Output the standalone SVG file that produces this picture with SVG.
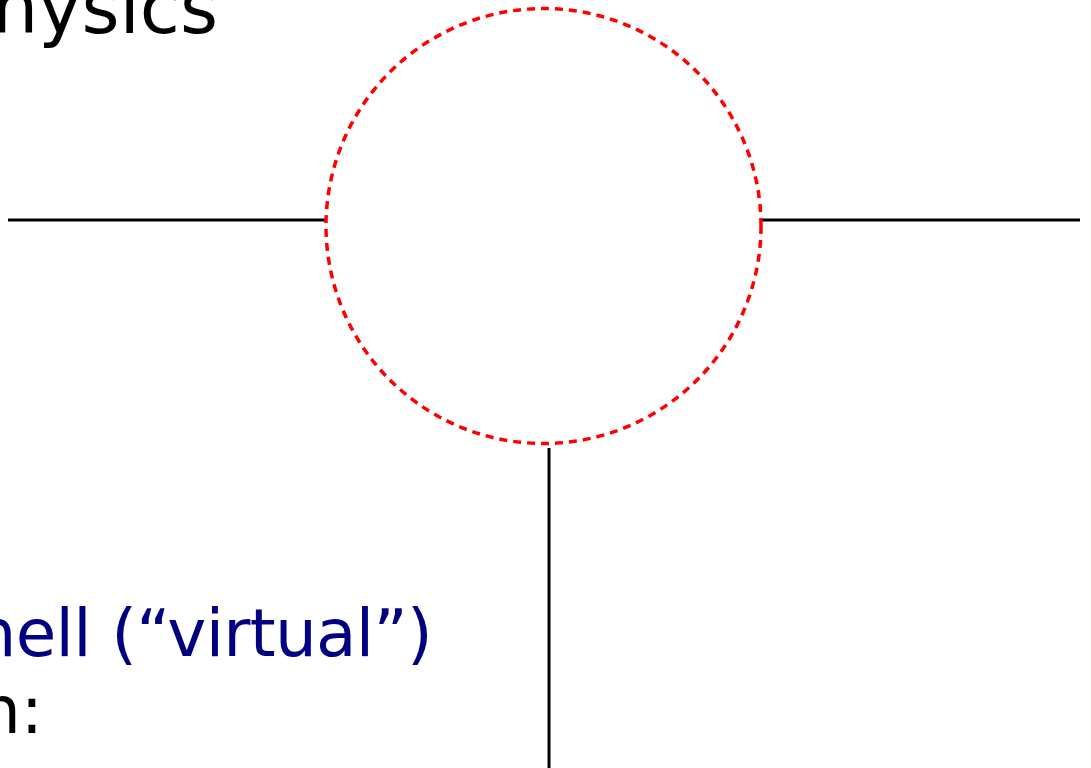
<svg xmlns="http://www.w3.org/2000/svg" width="1091" height="768" viewBox="0 0 1091 768">
<style>
.lbl{font-family:"DejaVu Sans",sans-serif;font-size:66px}
.title{font-family:"DejaVu Sans",sans-serif;font-size:73px}
.line{stroke:#000;stroke-width:3;fill:none}
.shell{stroke:#ff0000;stroke-width:3.5;stroke-dasharray:8 6;fill:none}
</style>
<rect width="1091" height="768" fill="#fff"/>
<g id="connectors">
<line class="line" x1="8" y1="220" x2="326" y2="220"/>
<line class="line" x1="760" y1="220" x2="1080" y2="220"/>
<line class="line" x1="549" y1="448" x2="549" y2="768"/>
</g>
<g id="vertex">
<circle class="shell" cx="543.5" cy="226" r="217.5"/>
</g>
<g id="title">
<text class="title" x="218" y="33" text-anchor="end" fill="#000">hysics</text>
</g>
<g id="caption">
<text class="lbl" x="432" y="656" text-anchor="end" letter-spacing="-0.7" fill="#000080">hell (“virtual”)</text>
<text class="lbl" x="43" y="733" text-anchor="end" fill="#000">n:</text>
</g>
</svg>
